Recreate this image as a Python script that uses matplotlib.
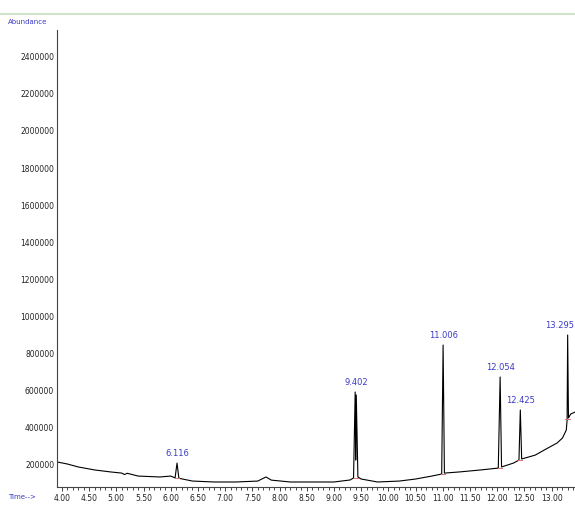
import numpy as np
import matplotlib.pyplot as plt
from matplotlib.ticker import MultipleLocator, FixedLocator

# TIC trace (time in min, abundance)
times = [3.91, 4.10, 4.30, 4.60, 4.90, 5.10, 5.15, 5.20, 5.40, 5.80, 6.00, 6.08, 6.116, 6.15,
         6.40, 6.80, 7.20, 7.60, 7.75, 7.85, 8.20, 8.60, 9.00, 9.30, 9.36, 9.39, 9.40, 9.41,
         9.44, 9.50, 9.80, 10.20, 10.50, 10.80, 10.98, 11.006, 11.03, 11.30, 11.70, 12.02,
         12.054, 12.08, 12.30, 12.40, 12.425, 12.45, 12.70, 12.90, 13.10, 13.20, 13.27,
         13.285, 13.295, 13.31, 13.35, 13.43]
abundance = [216000, 205000, 189000, 173000, 162000, 156000, 148000, 155000, 140000, 135000,
             140000, 130000, 210000, 128000, 113000, 108000, 108000, 113000, 135000, 118000,
             108000, 108000, 108000, 119000, 130000, 593000, 226000, 577000, 135000, 124000,
             108000, 113000, 124000, 140000, 151000, 846000, 156000, 162000, 173000, 183000,
             674000, 189000, 210000, 226000, 496000, 232000, 253000, 286000, 318000, 345000,
             388000, 442000, 900000, 453000, 474000, 485000]

peak_rt = [6.116, 9.402, 11.006, 12.054, 12.425, 13.295]
peak_top = [210000, 593000, 846000, 674000, 496000, 900000]
peak_base = [132000, 128000, 153000, 185000, 228000, 445000]
peak_labels = ["6.116", "9.402", "11.006", "12.054", "12.425", "13.295"]

y_ticks = [200000, 400000, 600000, 800000, 1000000, 1200000, 1400000,
           1600000, 1800000, 2000000, 2200000, 2400000]
x_ticks = [4.0 + 0.5 * i for i in range(19)]

fig = plt.figure(figsize=(5.75, 5.07), dpi=100)
ax = fig.add_axes([57 / 575, 1 - 487 / 507, 1 - 57 / 575, (487 - 30) / 507])

ax.plot(times, abundance, color="black", lw=0.8)

# small red integration marks at peak bases
for rt, base in zip(peak_rt, peak_base):
    ax.plot([rt - 0.04, rt + 0.04], [base, base], color="#e07070", lw=0.7)

for i, (rt, top, lab) in enumerate(zip(peak_rt, peak_top, peak_labels)):
    ha = "right" if i == len(peak_rt) - 1 else "center"
    xt = rt + 0.12 if ha == "right" else rt
    ax.text(xt, top + 25000, lab, color="#3a3ac8", fontsize=6, ha=ha, va="bottom")

ax.set_xlim(3.91, 13.43)
ax.set_ylim(81000, 2544000)
ax.xaxis.set_major_locator(FixedLocator(x_ticks))
ax.xaxis.set_minor_locator(MultipleLocator(0.1))
ax.set_xticklabels(["{:.2f}".format(t) for t in x_ticks])
ax.yaxis.set_major_locator(FixedLocator(y_ticks))
ax.set_yticklabels([str(v) for v in y_ticks])
ax.tick_params(axis="both", labelsize=5.5, length=3, width=0.6, colors="#222222", pad=2)
ax.tick_params(axis="x", which="minor", length=2, width=0.5)
ax.tick_params(axis="y", length=0)

for s in ["top", "right"]:
    ax.spines[s].set_visible(False)
for s in ["left", "bottom"]:
    ax.spines[s].set_linewidth(0.8)
    ax.spines[s].set_color("#444444")

fig.add_artist(plt.Line2D([0, 1], [1 - 14 / 507, 1 - 14 / 507], color="#cfe3c8", lw=1.5))
fig.text(28 / 575, 1 - 22 / 507, "Abundance", color="#3a3ac8", fontsize=5,
         ha="center", va="center")
fig.text(22 / 575, 1 - 497 / 507, "Time-->", color="#3a3ac8", fontsize=5,
         ha="center", va="center")

fig.savefig("out.png", dpi=100)
